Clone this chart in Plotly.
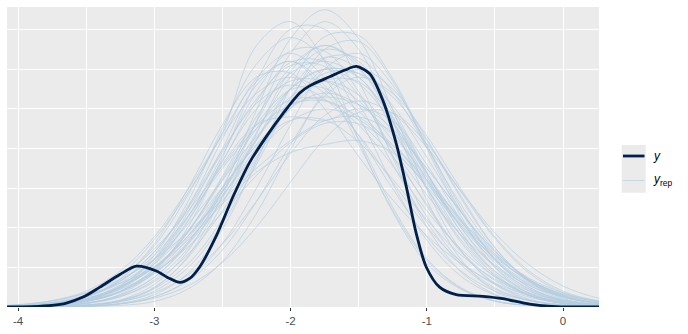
import plotly.graph_objects as go

# ---------------- data ----------------
x_grid = [-4.25, -4.0, -3.75, -3.5, -3.25, -3.0, -2.75, -2.5, -2.25, -2.0,
          -1.75, -1.5, -1.25, -1.0, -0.75, -0.5, -0.25, 0.0, 0.25, 0.5]

yrep_01 = [0, .001, .004, .016, .052, .130, .268, .450, .613, .680, .624, .481, .311, .169, .078, .030, .010, .003, .001, 0]
yrep_02 = [0, 0, .001, .005, .018, .057, .143, .296, .497, .677, .750, .677, .497, .296, .143, .057, .018, .005, .001, 0]
yrep_03 = [0, .003, .010, .030, .080, .170, .290, .440, .660, .720, .620, .420, .240, .110, .045, .015, .004, .001, 0, 0]
yrep_04 = [0, .001, .005, .016, .045, .108, .217, .366, .518, .617, .619, .534, .397, .255, .141, .067, .028, .010, .003, .001]
yrep_05 = [.001, .003, .010, .027, .066, .139, .250, .391, .525, .609, .607, .510, .360, .214, .107, .045, .016, .005, .001, 0]
yrep_06 = [0, 0, .001, .005, .016, .046, .110, .221, .372, .527, .627, .628, .542, .403, .259, .143, .068, .028, .010, .003]
yrep_07 = [0, 0, .001, .002, .008, .026, .066, .144, .266, .410, .532, .580, .539, .432, .298, .177, .091, .040, .016, .005]
yrep_08 = [0, .001, .005, .015, .039, .089, .174, .293, .424, .530, .570, .535, .442, .321, .205, .116, .058, .025, .010, .003]
yrep_09 = [0, .001, .003, .009, .029, .075, .164, .302, .467, .605, .660, .605, .467, .302, .164, .075, .029, .009, .003, .001]
yrep_10 = [.001, .002, .008, .025, .064, .139, .256, .396, .514, .560, .525, .434, .315, .202, .114, .057, .025, .010, .003, .001]
yrep_11 = [0, .001, .002, .009, .032, .089, .203, .377, .570, .701, .701, .570, .377, .203, .089, .032, .009, .002, .001, 0]
yrep_12 = [0, 0, .001, .002, .009, .031, .086, .197, .367, .554, .682, .685, .576, .407, .242, .120, .050, .018, .006, .001]
yrep_13 = [0, 0, 0, .001, .004, .014, .046, .115, .236, .397, .541, .600, .550, .424, .275, .149, .068, .026, .008, .002]
yrep_14 = [0, 0, .001, .003, .008, .022, .054, .112, .202, .315, .424, .491, .490, .412, .291, .173, .086, .036, .013, .004]
yrep_15 = [.001, .003, .009, .022, .051, .102, .180, .282, .388, .469, .500, .473, .401, .304, .206, .125, .068, .033, .015, .006]
yrep_16 = [.002, .005, .015, .036, .077, .146, .243, .356, .459, .522, .522, .459, .356, .243, .146, .077, .036, .015, .005, .002]
yrep_17 = [.001, .005, .016, .040, .091, .177, .298, .432, .539, .580, .539, .432, .298, .177, .091, .040, .016, .005, .001, 0]
yrep_18 = [0, .002, .006, .016, .039, .084, .160, .266, .389, .502, .571, .568, .477, .337, .200, .100, .042, .015, .005, .001]
yrep_19 = [0, 0, .001, .005, .014, .036, .082, .159, .267, .387, .483, .520, .488, .403, .293, .187, .106, .053, .023, .009]
yrep_20 = [0, .001, .002, .008, .026, .068, .149, .275, .424, .550, .600, .563, .465, .338, .216, .122, .061, .026, .010, .004]
yrep_21 = [0, .001, .004, .015, .049, .122, .252, .424, .577, .640, .577, .424, .252, .122, .049, .015, .004, .001, 0, 0]
yrep_22 = [0, .001, .004, .014, .040, .096, .193, .325, .461, .548, .552, .494, .396, .283, .182, .105, .054, .025, .010, .004]
yrep_23 = [0, .001, .003, .010, .026, .064, .134, .242, .378, .508, .589, .589, .508, .378, .242, .134, .064, .026, .010, .003]
yrep_24 = [0, .001, .005, .015, .037, .085, .165, .278, .402, .502, .540, .511, .433, .328, .222, .134, .073, .036, .016, .006]
yrep_25 = [0, 0, .001, .004, .016, .050, .126, .260, .437, .595, .660, .613, .491, .339, .202, .104, .046, .018, .006, .002]
yrep_26 = [.001, .002, .009, .027, .071, .154, .284, .438, .569, .620, .559, .410, .244, .118, .047, .015, .004, .001, 0, 0]
yrep_27 = [.001, .002, .008, .021, .051, .108, .194, .302, .407, .471, .472, .416, .322, .220, .132, .070, .033, .013, .005, .002]
yrep_28 = [.001, .003, .008, .021, .045, .088, .153, .238, .332, .415, .463, .462, .407, .315, .215, .129, .068, .032, .013, .005]
yrep_29 = [.001, .004, .012, .030, .060, .100, .170, .260, .340, .390, .410, .420, .390, .310, .210, .120, .055, .020, .006, .002]
yrep_30 = [0, .001, .005, .017, .048, .114, .228, .383, .543, .646, .646, .543, .383, .228, .114, .048, .017, .005, .001, 0]
yrep_31 = [0, .002, .008, .022, .050, .100, .180, .300, .410, .500, .600, .580, .450, .300, .170, .080, .030, .010, .003, .001]
yrep_32 = [0, .001, .006, .020, .055, .120, .240, .400, .560, .620, .550, .470, .380, .260, .140, .060, .020, .006, .002, 0]
yrep_33 = [0, .002, .007, .020, .050, .110, .220, .360, .460, .480, .470, .500, .470, .360, .220, .110, .045, .015, .004, .001]
yrep_34 = [0, 0, .001, .004, .015, .048, .130, .280, .470, .640, .720, .650, .470, .270, .120, .040, .010, .002, 0, 0]
yrep_35 = [.002, .006, .016, .035, .070, .120, .190, .270, .350, .420, .470, .480, .440, .350, .240, .140, .070, .030, .010, .003]
yrep_36 = [0, 0, 0, .002, .008, .025, .070, .160, .300, .460, .600, .640, .560, .410, .250, .120, .050, .016, .005, .001]
yrep_37 = [0, .002, .008, .025, .070, .160, .300, .460, .580, .590, .500, .380, .270, .180, .110, .060, .030, .012, .004, .001]
yrep_38 = [0, .001, .004, .013, .038, .092, .190, .330, .480, .590, .620, .580, .470, .320, .180, .080, .030, .009, .002, 0]
yrep_39 = [0, .001, .005, .018, .048, .100, .180, .290, .420, .550, .630, .600, .480, .330, .190, .090, .035, .011, .003, .001]
yrep_40 = [.001, .003, .010, .028, .065, .130, .230, .350, .450, .510, .530, .510, .450, .350, .240, .140, .070, .030, .010, .003]
yrep_41 = [0, .001, .006, .020, .055, .120, .230, .370, .500, .570, .570, .520, .420, .300, .180, .090, .040, .015, .005, .001]
yrep_42 = [0, 0, .001, .004, .013, .040, .100, .210, .360, .520, .650, .670, .570, .400, .230, .100, .035, .010, .002, 0]
yrep_43 = [.001, .003, .010, .026, .060, .120, .210, .320, .430, .510, .520, .480, .410, .320, .220, .130, .065, .028, .010, .003]
yrep_44 = [0, .001, .003, .010, .030, .075, .160, .290, .440, .580, .650, .620, .500, .340, .190, .085, .030, .008, .002, 0]
yrep_45 = [0, .001, .004, .014, .040, .095, .190, .320, .450, .550, .600, .590, .530, .420, .280, .150, .065, .022, .006, .001]

yrep_series = [yrep_01, yrep_02, yrep_03, yrep_04, yrep_05, yrep_06, yrep_07, yrep_08,
               yrep_09, yrep_10, yrep_11, yrep_12, yrep_13, yrep_14, yrep_15, yrep_16,
               yrep_17, yrep_18, yrep_19, yrep_20, yrep_21, yrep_22, yrep_23, yrep_24,
               yrep_25, yrep_26, yrep_27, yrep_28, yrep_29, yrep_30, yrep_31, yrep_32,
               yrep_33, yrep_34, yrep_35, yrep_36, yrep_37, yrep_38, yrep_39, yrep_40,
               yrep_41, yrep_42, yrep_43, yrep_44, yrep_45]

y_obs_x = [-4.08, -3.9, -3.75, -3.645, -3.523, -3.40, -3.253, -3.131, -2.985, -2.90,
           -2.814, -2.74, -2.667, -2.544, -2.42, -2.30, -2.178, -2.056, -1.933, -1.86,
           -1.713, -1.60, -1.517, -1.42, -1.322, -1.224, -1.15, -1.077, -1.004, -0.906,
           -0.784, -0.588, -0.442, -0.246, -0.05, 0.27]
y_obs_density = [0.000, 0.001, 0.004, 0.010, 0.025, 0.050, 0.082, 0.103, 0.091, 0.074,
                 0.062, 0.072, 0.101, 0.180, 0.280, 0.365, 0.430, 0.488, 0.540, 0.558,
                 0.581, 0.598, 0.607, 0.589, 0.521, 0.412, 0.303, 0.185, 0.101, 0.050,
                 0.031, 0.027, 0.021, 0.007, 0.001, 0.000]

x_tick_values = [-4, -3, -2, -1, 0]
x_tick_labels = ["-4", "-3", "-2", "-1", "0"]
legend_labels = ["<i>y</i>", "<i>y</i><sub>rep</sub>"]

# ---------------- style ----------------
YREP_COLOR = "rgba(179,205,224,0.75)"
Y_COLOR = "#011f4b"
PANEL_BG = "#ebebeb"

fig = go.Figure()
for series in yrep_series:
    fig.add_trace(go.Scatter(
        x=x_grid, y=series, mode="lines",
        line=dict(color=YREP_COLOR, width=0.9, shape="spline", smoothing=1.0),
        showlegend=False, hoverinfo="skip"))

fig.add_trace(go.Scatter(
    x=y_obs_x, y=y_obs_density, mode="lines",
    line=dict(color=Y_COLOR, width=2.8, shape="spline", smoothing=0.8),
    showlegend=False, hoverinfo="skip"))

W, H = 688, 334
L, R, T, B = 7, 89, 7, 27
pw, ph = W - L - R, H - T - B


def px(xp):
    return (xp - L) / pw


def py(yp):
    return (H - B - yp) / ph


# manual legend (ggplot-like keys with grey background)
shapes = [
    dict(type="rect", xref="paper", yref="paper", x0=px(621.7), x1=px(645.7),
         y0=py(192.7), y1=py(145), fillcolor=PANEL_BG, line=dict(width=0), layer="below"),
    dict(type="line", xref="paper", yref="paper", x0=px(623), x1=px(644.5),
         y0=py(156), y1=py(156), line=dict(color=Y_COLOR, width=2.8)),
    dict(type="line", xref="paper", yref="paper", x0=px(623), x1=px(644.5),
         y0=py(180.5), y1=py(180.5), line=dict(color=YREP_COLOR, width=0.9)),
]
annotations = [
    dict(xref="paper", yref="paper", x=px(651), y=py(155.5), text=legend_labels[0],
         showarrow=False, xanchor="left", yanchor="middle",
         font=dict(family="Liberation Sans, Arial, sans-serif", size=12, color="#000000")),
    dict(xref="paper", yref="paper", x=px(651), y=py(180), text=legend_labels[1],
         showarrow=False, xanchor="left", yanchor="middle",
         font=dict(family="Liberation Sans, Arial, sans-serif", size=12, color="#000000")),
]

fig.update_layout(
    width=W, height=H,
    margin=dict(l=L, r=R, t=T, b=B, pad=0),
    paper_bgcolor="white",
    plot_bgcolor=PANEL_BG,
    showlegend=False,
    shapes=shapes,
    annotations=annotations,
    font=dict(family="Liberation Sans, Arial, sans-serif"),
    xaxis=dict(
        range=[-4.081, 0.264],
        tickmode="array", tickvals=x_tick_values, ticktext=x_tick_labels,
        ticks="outside", ticklen=3, tickwidth=1, tickcolor="#333333",
        tickfont=dict(size=11.5, color="#4d4d4d"),
        showgrid=True, gridcolor="white", gridwidth=1.3,
        minor=dict(tick0=0.5, dtick=1, showgrid=True, gridcolor="white",
                   gridwidth=0.9, ticks=""),
        zeroline=False, showline=False,
    ),
    yaxis=dict(
        range=[0, 0.757],
        tick0=0, dtick=0.1,
        showticklabels=False, ticks="",
        showgrid=True, gridcolor="white", gridwidth=1.2,
        zeroline=False, showline=False,
    ),
)

fig.write_html("out.html")
